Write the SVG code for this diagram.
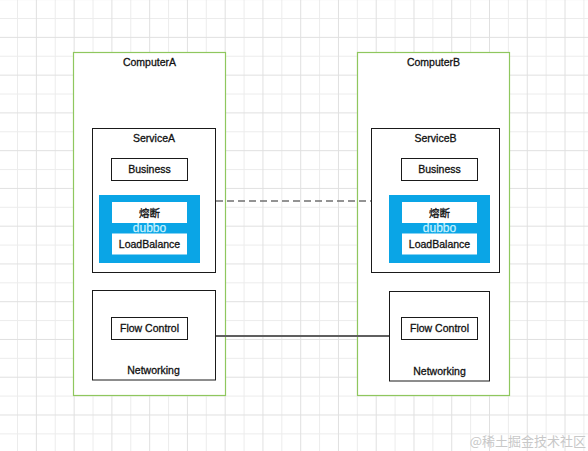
<svg xmlns="http://www.w3.org/2000/svg" width="588" height="451" viewBox="0 0 588 451">
<defs>
<pattern id="grid" x="17" y="18" width="37.76" height="37.76" patternUnits="userSpaceOnUse">
<path d="M0.5 0V37.76M0 0.5H37.76" stroke="#ececec" stroke-width="1" fill="none"/>
<path d="M19.38 0V37.76M0 19.38H37.76" stroke="#e0e0e0" stroke-width="1" fill="none"/>
</pattern>
<style>
.computer{fill:#fff;stroke:#8fc75e;stroke-width:1.2}
.box{fill:#fff;stroke:#1a1a1a;stroke-width:1}
.dubbo{fill:#0aa5e6;stroke:none}
.inner{fill:#fff;stroke:none}
text{font-family:"Liberation Sans",Arial,sans-serif;font-size:10.5px;fill:#111;text-anchor:middle;stroke:#111;stroke-width:0.3}
.cjk{font-family:"Liberation Sans","Noto Sans CJK SC",sans-serif}
.dlabel{fill:#c9f2ff;stroke:#c9f2ff;font-size:12px;stroke-width:0.25}
.wm{font-family:"Noto Sans CJK SC",sans-serif;font-size:13px;fill:#c8c8c8;stroke:none;text-anchor:end}
</style>
</defs>
<rect width="588" height="451" fill="#fff"/>
<rect width="588" height="451" fill="url(#grid)"/>

<g id="computerA">
<rect class="computer" x="73.5" y="52.5" width="152" height="343"/>
<text x="149.5" y="66">ComputerA</text>
</g>
<g id="computerB">
<rect class="computer" x="357.5" y="52.5" width="152" height="343"/>
<text x="433.5" y="66">ComputerB</text>
</g>

<g id="serviceA">
<rect class="box" x="92.5" y="128.5" width="123" height="144"/>
<text x="154" y="142">ServiceA</text>
</g>
<g id="businessA">
<rect class="box" x="111.5" y="158.5" width="76" height="22"/>
<text x="149.5" y="173">Business</text>
</g>
<g id="dubboA">
<rect class="dubbo" x="99" y="195" width="101" height="68"/>
</g>
<g id="fuseA">
<rect class="inner" x="112" y="202" width="75" height="21"/>
<text class="cjk" x="149.5" y="216.5">熔断</text>
</g>
<g id="lbA">
<rect class="inner" x="112" y="233.5" width="75" height="21"/>
<text x="149.5" y="247.5">LoadBalance</text>
</g>
<text class="dlabel" x="149.5" y="232.3">dubbo</text>
<g id="networkingA">
<rect class="box" x="92.5" y="290.5" width="123" height="89.5"/>
<text x="153.5" y="373.5">Networking</text>
</g>
<g id="flowA">
<rect class="box" x="111.5" y="317.5" width="76" height="22"/>
<text x="149.5" y="332">Flow Control</text>
</g>

<g id="serviceB">
<rect class="box" x="371.5" y="128.5" width="128" height="144"/>
<text x="435.5" y="142">ServiceB</text>
</g>
<g id="businessB">
<rect class="box" x="401.5" y="158.5" width="76" height="22"/>
<text x="439.5" y="173">Business</text>
</g>
<g id="dubboB">
<rect class="dubbo" x="389" y="195" width="101" height="68"/>
</g>
<g id="fuseB">
<rect class="inner" x="402" y="202" width="75" height="21"/>
<text class="cjk" x="439.5" y="216.5">熔断</text>
</g>
<g id="lbB">
<rect class="inner" x="402" y="233.5" width="75" height="21"/>
<text x="439.5" y="247.5">LoadBalance</text>
</g>
<text class="dlabel" x="439.5" y="232.3">dubbo</text>
<g id="networkingB">
<rect class="box" x="389.5" y="291.5" width="100" height="89.5"/>
<text x="439.5" y="375">Networking</text>
</g>
<g id="flowB">
<rect class="box" x="401.5" y="317.5" width="76" height="22"/>
<text x="439.5" y="332">Flow Control</text>
</g>

<g id="connectors">
<line x1="216" y1="201" x2="371" y2="201" stroke="#707070" stroke-width="1.6" stroke-dasharray="7 4"/>
<line x1="216" y1="336" x2="389" y2="336" stroke="#5f5f5f" stroke-width="1.8"/>
</g>

<text class="wm" x="586" y="446">@稀土掘金技术社区</text>
</svg>
